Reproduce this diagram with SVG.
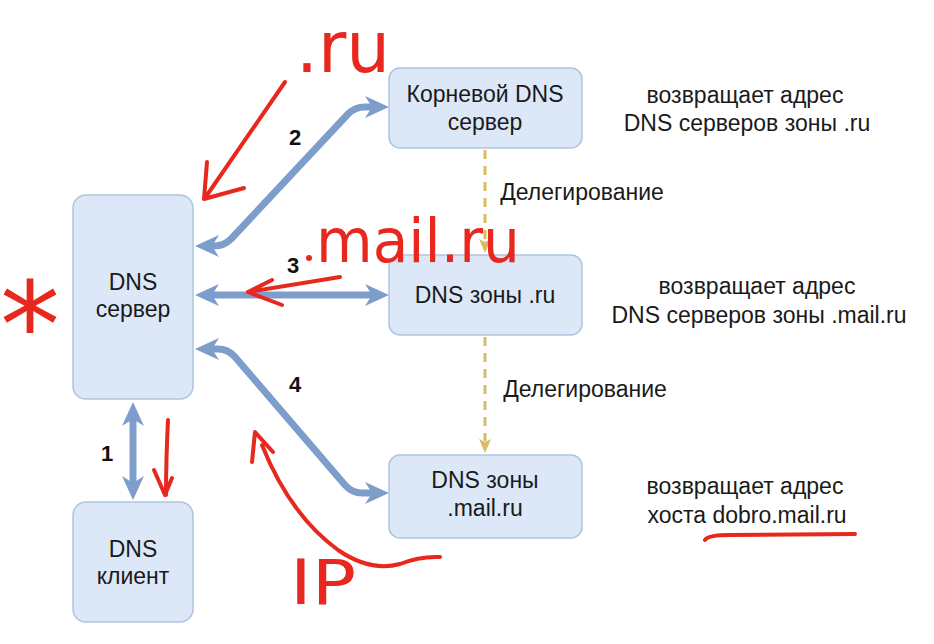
<svg xmlns="http://www.w3.org/2000/svg" width="934" height="644" viewBox="0 0 934 644">
<style>
.box{fill:#dce8f8;stroke:#aec3df;stroke-width:1.5}
.t{font-family:"Liberation Sans",Arial,sans-serif;font-size:23px;fill:#1a1a1a;text-anchor:middle}
.n{font-family:"Liberation Sans",Arial,sans-serif;font-size:22px;font-weight:bold;fill:#111;text-anchor:middle}
.blue{fill:none;stroke:#7d9dcb;stroke-width:7;marker-start:url(#bh);marker-end:url(#bh)}
.dash{fill:none;stroke:#d9bb63;stroke-width:3;stroke-dasharray:9 7;marker-end:url(#yh)}
.red{fill:none;stroke:#e8281e;stroke-width:4;stroke-linecap:round;stroke-linejoin:round}
.hand{font-family:"DejaVu Sans",sans-serif;fill:#e8281e}
</style>
<defs>
<marker id="bh" viewBox="0 0 24 24" markerWidth="24" markerHeight="24" refX="7" refY="12" markerUnits="userSpaceOnUse" orient="auto-start-reverse">
<path d="M0,1 L24,12 L0,23 L7,12 z" fill="#7d9dcb"/>
</marker>
<marker id="yh" viewBox="0 0 14 14" markerWidth="14" markerHeight="14" refX="2" refY="7" markerUnits="userSpaceOnUse" orient="auto">
<path d="M0,1 L14,7 L0,13 L3,7 z" fill="#d9bb63"/>
</marker>
</defs>
<rect width="934" height="644" fill="#ffffff"/>
<g id="connectors">
<path class="blue" d="M133,419 L133,483"/>
<path class="blue" d="M212,246 L214,246 Q224,246 231,239 L348,114 Q355,107 365,107 L372,107"/>
<path class="blue" d="M212,295 L372,295"/>
<path class="blue" d="M212,349 L218,349 Q228,349 235,357 L345,485 Q352,493 362,493 L372,493"/>
<path class="dash" d="M485,150 L485,241"/>
<path class="dash" d="M485,337 L485,441"/>
<text class="n" x="107" y="461">1</text>
<text class="n" x="295" y="145">2</text>
<text class="n" x="293" y="273">3</text>
<text class="n" x="295" y="392">4</text>
<text class="t" x="582" y="200">Делегирование</text>
<text class="t" x="585" y="397">Делегирование</text>
</g>
<g id="dns-server">
<rect class="box" x="73" y="195" width="120" height="204" rx="13"/>
<text class="t" x="133" y="290">DNS</text>
<text class="t" x="133" y="317">сервер</text>
</g>
<g id="dns-client">
<rect class="box" x="73" y="502" width="120" height="120" rx="13"/>
<text class="t" x="133" y="557">DNS</text>
<text class="t" x="133" y="584">клиент</text>
</g>
<g id="root-dns">
<rect class="box" x="389" y="68" width="193" height="80" rx="11"/>
<text class="t" x="485" y="102">Корневой DNS</text>
<text class="t" x="485" y="130">сервер</text>
</g>
<g id="zone-ru">
<rect class="box" x="389" y="255" width="193" height="80" rx="11"/>
<text class="t" x="485" y="303">DNS зоны .ru</text>
</g>
<g id="zone-mail">
<rect class="box" x="389" y="455" width="193" height="83" rx="11"/>
<text class="t" x="485" y="488">DNS зоны</text>
<text class="t" x="485" y="516">.mail.ru</text>
</g>
<g id="notes">
<text class="t" x="745" y="103">возвращает адрес</text>
<text class="t" x="747" y="131">DNS серверов зоны .ru</text>
<text class="t" x="757" y="294">возвращает адрес</text>
<text class="t" x="759" y="323">DNS серверов зоны .mail.ru</text>
<text class="t" x="745" y="494">возвращает адрес</text>
<text class="t" x="747" y="523">хоста dobro.mail.ru</text>
</g>
<g id="annotations">
<text class="hand" x="296" y="72" font-size="72" textLength="94" lengthAdjust="spacingAndGlyphs">.ru</text>
<text class="hand" x="316" y="262" font-size="60" textLength="204" lengthAdjust="spacingAndGlyphs">mail.ru</text>
<circle cx="309" cy="258" r="3" fill="#e8281e"/>
<text class="hand" x="290" y="604" font-size="62" textLength="66" lengthAdjust="spacingAndGlyphs">IP</text>
<text class="hand" x="0" y="367" font-size="120">*</text>
<path class="red" d="M285,82 L205,198 M207,162 L204,199 L244,188"/>
<path class="red" d="M340,277 L248,292 M272,280 L248,292 L282,305"/>
<path class="red" d="M168,420 Q166,460 166,495 M154,470 L165,495 L172,478"/>
<path class="red" d="M440,557 Q420,556 400,564 Q370,572 338,550 Q290,515 262,445 M252,462 L255,432 L273,452"/>
<path class="red" d="M705,540 Q708,535 730,535 L855,534"/>
</g>
</svg>
